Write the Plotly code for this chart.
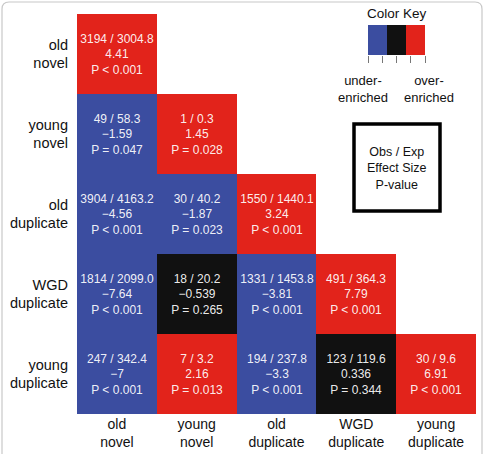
import plotly.graph_objects as go

# ---------------- data ----------------
categories = ["old novel", "young novel", "old duplicate", "WGD duplicate", "young duplicate"]
tick_labels = ["old<br>novel", "young<br>novel", "old<br>duplicate", "WGD<br>duplicate", "young<br>duplicate"]

observed = [
    [3194],
    [49, 1],
    [3904, 30, 1550],
    [1814, 18, 1331, 491],
    [247, 7, 194, 123, 30],
]
expected = [
    [3004.8],
    [58.3, 0.3],
    [4163.2, 40.2, 1440.1],
    [2099.0, 20.2, 1453.8, 364.3],
    [342.4, 3.2, 237.8, 119.6, 9.6],
]
effect = [
    [4.41],
    [-1.59, 1.45],
    [-4.56, -1.87, 3.24],
    [-7.64, -0.539, -3.81, 7.79],
    [-7, 2.16, -3.3, 0.336, 6.91],
]
p_value = [
    [0.001],
    [0.047, 0.028],
    [0.001, 0.023, 0.001],
    [0.001, 0.265, 0.001, 0.001],
    [0.001, 0.013, 0.001, 0.344, 0.001],
]
p_op = [
    ["<"],
    ["=", "="],
    ["<", "=", "<"],
    ["<", "=", "<", "<"],
    ["<", "=", "<", "=", "<"],
]
key_levels = [-1, 0, 1]
key_labels = ["under-<br>enriched", "over-<br>enriched"]

# ---------------- styling ----------------
BLUE = "#3B4DA0"
BLACK = "#111111"
RED = "#E2231B"
FONT = "Liberation Sans, Arial, sans-serif"
W, H = 487, 454
ML, MR, MT, MB = 77, 11, 14, 40
PW, PH = W - ML - MR, H - MT - MB

colorscale = [[0, BLUE], [1 / 3, BLUE], [1 / 3, BLACK], [2 / 3, BLACK], [2 / 3, RED], [1, RED]]


def fmt_num(v):
    return f"{v:g}".replace("-", "\u2212")


n = len(categories)
z, text = [], []
for i in range(n):
    zr, tr = [], []
    for j in range(n):
        if j <= i:
            sig = p_value[i][j] < 0.05
            zr.append((1 if effect[i][j] > 0 else -1) if sig else 0)
            tr.append(f"{observed[i][j]} / {expected[i][j]:.1f}<br>{fmt_num(effect[i][j])}<br>P {p_op[i][j]} {p_value[i][j]:g}")
        else:
            zr.append(None)
            tr.append("")
    z.append(zr)
    text.append(tr)

fig = go.Figure()
fig.add_trace(go.Heatmap(
    z=z, x=categories, y=categories, text=text, texttemplate="%{text}",
    textfont=dict(family=FONT, size=12, color="rgba(255,255,255,0.93)"),
    colorscale=colorscale, zmin=-1, zmax=1, showscale=False, hoverinfo="skip",
))
fig.add_trace(go.Heatmap(
    z=[key_levels], x=[0, 1, 2], y=[0], xaxis="x2", yaxis="y2",
    colorscale=colorscale, zmin=-1, zmax=1, showscale=False, hoverinfo="skip",
))


def px_x(x):
    return (x - ML) / PW


def px_y(y):
    return (H - MB - y) / PH


# frame with rounded top corners
r = 7
x0, x1, y0, y1 = 2, 482, 2, 470
path = (f"M {px_x(x0)} {px_y(y1)} L {px_x(x0)} {px_y(y0 + r)} "
        f"Q {px_x(x0)} {px_y(y0)} {px_x(x0 + r)} {px_y(y0)} "
        f"L {px_x(x1 - r)} {px_y(y0)} Q {px_x(x1)} {px_y(y0)} {px_x(x1)} {px_y(y0 + r)} "
        f"L {px_x(x1)} {px_y(y1)}")
shapes = [
    dict(type="path", xref="paper", yref="paper", path=path, line=dict(color="#c8c8c8", width=1.2)),
    dict(type="rect", xref="paper", yref="paper", x0=px_x(354), x1=px_x(440), y0=px_y(211), y1=px_y(124),
         line=dict(color="black", width=3.5), fillcolor="white"),
]


def ann(txt, x, y, size):
    return dict(text=txt, x=px_x(x), y=px_y(y), xref="paper", yref="paper", showarrow=False,
                xanchor="center", yanchor="middle", font=dict(family=FONT, size=size, color="#111"))


annotations = [
    ann("Color Key", 397, 13, 13.5),
    ann(key_labels[0], 363, 89, 13),
    ann(key_labels[1], 429, 89, 13),
    ann("Obs / Exp<br>Effect Size<br>P-value", 397, 168, 12.5),
]

fig.update_layout(
    width=W, height=H, margin=dict(l=ML, r=MR, t=MT, b=MB, autoexpand=False),
    paper_bgcolor="white", plot_bgcolor="rgba(0,0,0,0)",
    font=dict(family=FONT, color="#111"),
    xaxis=dict(domain=[0, 1], tickvals=categories, ticktext=tick_labels, showgrid=False, zeroline=False,
               showline=False, ticks="", tickfont=dict(size=14), ticklabelstandoff=0, automargin=False,
               fixedrange=True),
    yaxis=dict(domain=[0, 1], tickvals=categories, ticktext=tick_labels, autorange="reversed", showgrid=False,
               zeroline=False, showline=False, ticks="", tickfont=dict(size=14.5), ticklabelstandoff=8,
               automargin=False, fixedrange=True),
    xaxis2=dict(domain=[px_x(368), px_x(425)], anchor="y2", range=[-0.5, 2.5], showgrid=False, zeroline=False,
                showline=False, ticks="outside", tickvals=[-0.5, 0.25, 1, 1.75, 2.5], ticklen=7,
                tickcolor="#777", tickwidth=1, showticklabels=False, automargin=False),
    yaxis2=dict(domain=[px_y(55), px_y(25)], anchor="x2", range=[-0.5, 0.5], visible=False),
    shapes=shapes, annotations=annotations, showlegend=False,
)

fig.write_html("out.html")
